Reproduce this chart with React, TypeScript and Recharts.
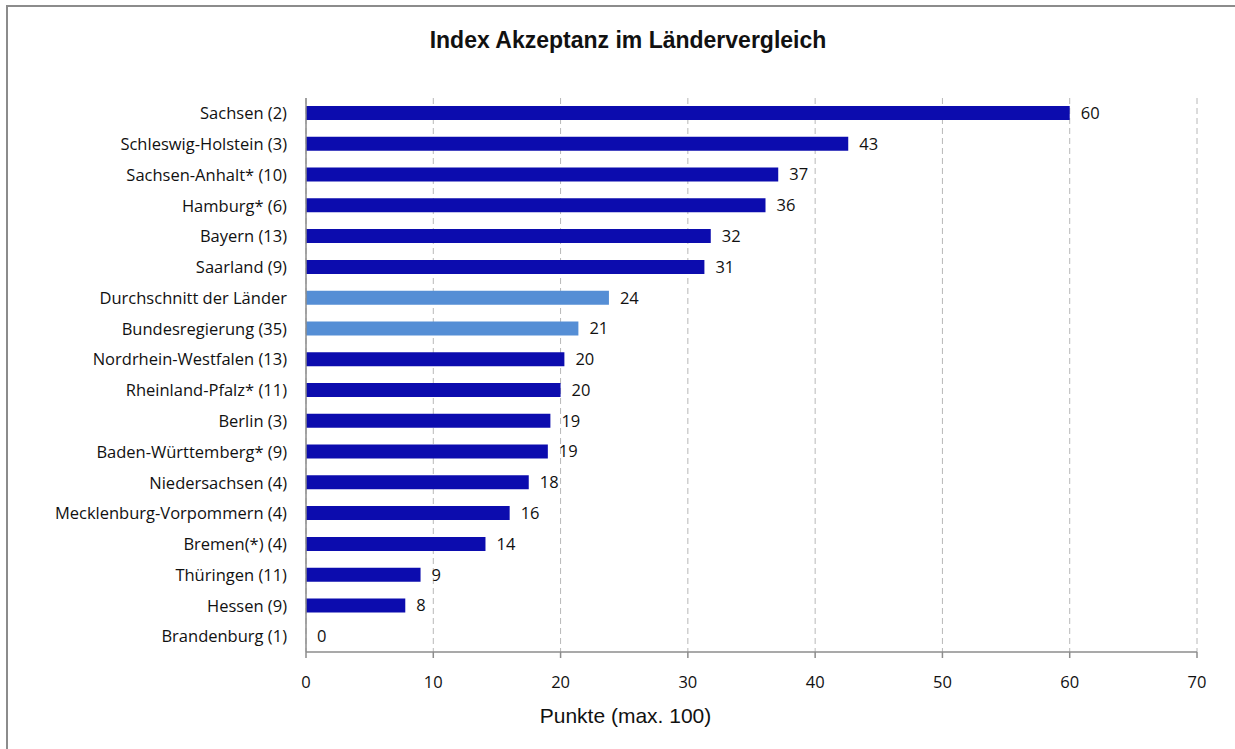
import React from "react";
import { BarChart, Bar, XAxis, YAxis, CartesianGrid, Cell, LabelList } from "recharts";

const categories = [
  "Sachsen (2)",
  "Schleswig-Holstein (3)",
  "Sachsen-Anhalt* (10)",
  "Hamburg* (6)",
  "Bayern (13)",
  "Saarland (9)",
  "Durchschnitt der Länder",
  "Bundesregierung (35)",
  "Nordrhein-Westfalen (13)",
  "Rheinland-Pfalz* (11)",
  "Berlin (3)",
  "Baden-Württemberg* (9)",
  "Niedersachsen (4)",
  "Mecklenburg-Vorpommern (4)",
  "Bremen(*) (4)",
  "Thüringen (11)",
  "Hessen (9)",
  "Brandenburg (1)",
];
const values = [60, 42.6, 37.1, 36.1, 31.8, 31.3, 23.8, 21.4, 20.3, 20.0, 19.2, 19.0, 17.5, 16.0, 14.1, 9.0, 7.8, 0];
const referenceRows = ["Durchschnitt der Länder", "Bundesregierung (35)"];
const xTicks = [0, 10, 20, 30, 40, 50, 60, 70];

const data = categories.map((name, i) => ({ name, value: values[i] }));

const FONT = "'Open Sans', sans-serif";

const ValueLabel = (props: any) => {
  const { x, y, width, height, value } = props;
  const v = Number(value);
  const w = v === 0 ? 0 : Math.max(0, Number(width) || 0);
  const xx = Number(x) + w + 11;
  const yy = Number(y) + (Number(height) || 0) / 2;
  return (
    <text x={xx} y={yy} dy="0.36em" fill="#111" fontSize={16.5} fontFamily={FONT}>
      {String(Math.round(v))}
    </text>
  );
};

export default function App() {
  return (
    <div style={{ position: "absolute", left: 0, top: 0, width: 1235, height: 749, background: "#fff", fontFamily: FONT }}>
      <div style={{ position: "absolute", left: 6, top: 5, width: 1240, height: 760, border: "2px solid #8c8c8c", boxSizing: "border-box" }} />
      <div style={{ position: "absolute", left: 0, top: 27, width: 1256, textAlign: "center", fontFamily: "'Liberation Sans', Arial, sans-serif", fontWeight: "bold", fontSize: 23, color: "#111" }}>
        Index Akzeptanz im Ländervergleich
      </div>
      <div style={{ position: "absolute", left: 0, top: 704, width: 1251, textAlign: "center", fontFamily: "'Liberation Sans', Arial, sans-serif", fontSize: 21, color: "#111" }}>
        Punkte (max. 100)
      </div>
      <div style={{ position: "absolute", left: 0, top: 0 }}>
        <BarChart
          width={1235}
          height={749}
          data={data}
          layout="vertical"
          margin={{ top: 98, right: 38, bottom: 67, left: 6 }}
          barCategoryGap={8}
        >
          <CartesianGrid horizontal={false} stroke="#b8b8b8" strokeDasharray="6 4" />
          <Bar dataKey="value" barSize={14} minPointSize={1} isAnimationActive={false}>
            {data.map((d) => (
              <Cell
                key={d.name}
                fill={d.value === 0 ? "none" : referenceRows.includes(d.name) ? "#558ed5" : "#0c0cae"}
              />
            ))}
            <LabelList dataKey="value" content={ValueLabel} />
          </Bar>
          <XAxis
            type="number"
            domain={[0, 70]}
            ticks={xTicks}
            interval={0}
            height={30}
            axisLine={{ stroke: "#8c8c8c", strokeWidth: 1.5 }}
            tickLine={{ stroke: "#8c8c8c", strokeWidth: 1.5 }}
            tickSize={6}
            tickMargin={18}
            tick={{ fill: "#111", fontSize: 16.5, fontFamily: FONT }}
          />
          <YAxis
            type="category"
            dataKey="name"
            width={300}
            interval={0}
            axisLine={{ stroke: "#8c8c8c", strokeWidth: 1.5 }}
            tickLine={false}
            tickSize={0}
            tickMargin={19}
            tick={{ fill: "#111", fontSize: 16.5, fontFamily: FONT }}
          />
        </BarChart>
      </div>
    </div>
  );
}
